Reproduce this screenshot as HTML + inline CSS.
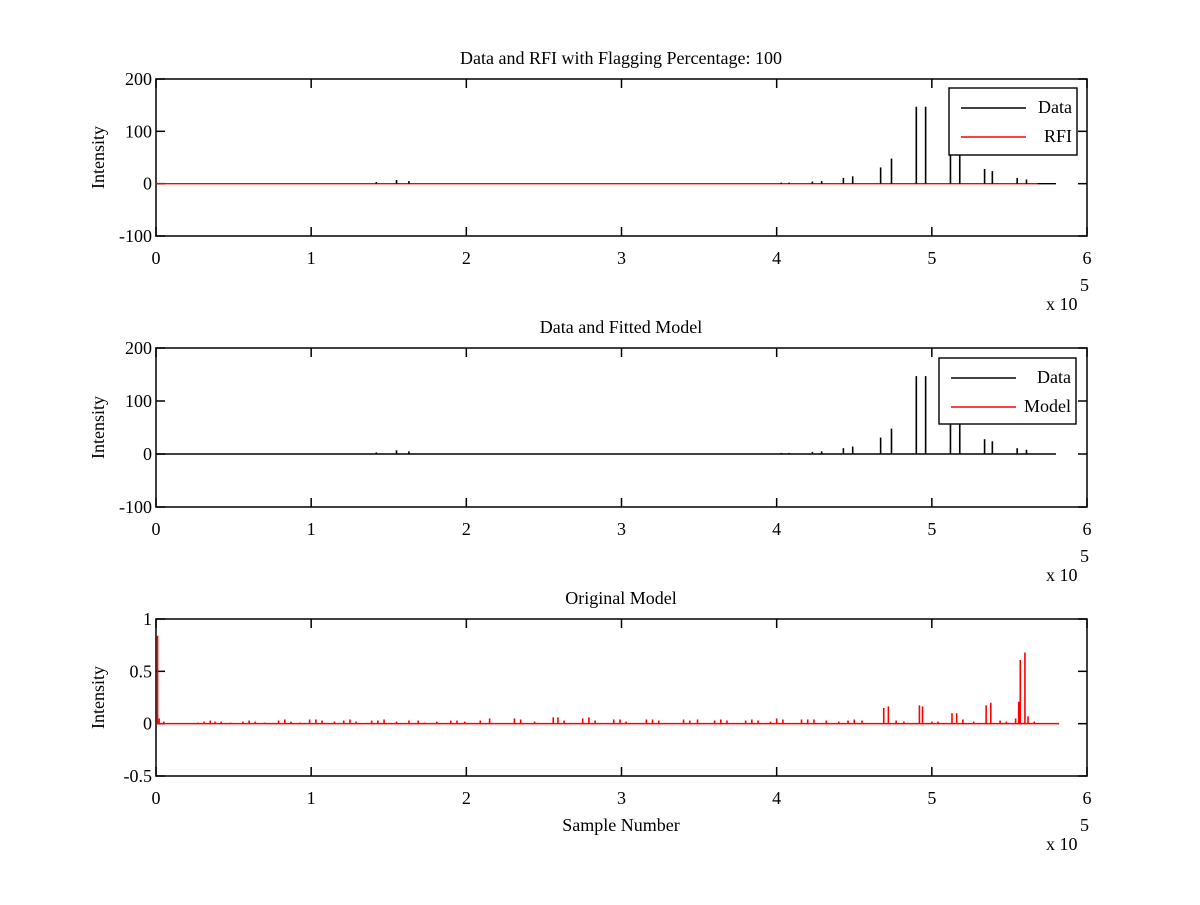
<!DOCTYPE html>
<html><head><meta charset="utf-8"><style>
body{margin:0;background:#fff;}
svg text{font-family:"Liberation Serif",serif;font-size:18px;fill:#000;}
</style></head><body>
<svg id="chart" width="1200" height="900" xmlns="http://www.w3.org/2000/svg">
<rect width="1200" height="900" fill="#fff"/>
</svg>
<script>
// ---- data ----
const dataSamples = [142000,155000,163000,403000,408000,423000,429000,443000,449000,467000,474000,490000,496000,512000,518000,534000,539000,555000,561000];
const dataValues  = [3,7,5,2,2,4,5,11,14,31,48,147,147,75,70,28,24,11,8];
const dataEnd = 580000;
const rfiEnd = 568000;
const modelBigSamples = [1000,2000,469000,472000,492000,494000,513000,516000,535000,538000,554000,556000,557000,560000,562000];
const modelBigValues  = [0.84,0.05,0.15,0.165,0.175,0.165,0.1,0.1,0.175,0.2,0.05,0.21,0.61,0.68,0.07];
const modelSmallSamples = [5000,27000,31000,35000,38000,42000,48000,56000,60000,64000,70000,79000,83000,87000,93000,99000,103000,107000,115000,121000,125000,129000,139000,143000,147000,155000,163000,169000,173000,181000,190000,194000,199000,209000,215000,231000,235000,244000,256000,259000,263000,275000,279000,283000,295000,299000,303000,316000,320000,324000,340000,344000,349000,360000,364000,368000,380000,384000,388000,396000,400000,404000,416000,420000,424000,432000,440000,446000,450000,455000,477000,482000,500000,504000,520000,527000,544000,548000,566000];
const modelSmallValues  = [0.02,0.01,0.02,0.03,0.02,0.02,0.01,0.02,0.03,0.02,0.01,0.03,0.04,0.02,0.01,0.04,0.04,0.03,0.02,0.03,0.04,0.02,0.03,0.03,0.04,0.02,0.03,0.03,0.01,0.02,0.03,0.03,0.02,0.03,0.05,0.05,0.04,0.02,0.06,0.06,0.03,0.05,0.06,0.03,0.04,0.04,0.02,0.04,0.04,0.03,0.04,0.03,0.04,0.03,0.04,0.03,0.03,0.04,0.03,0.02,0.05,0.04,0.04,0.04,0.04,0.03,0.02,0.03,0.04,0.03,0.03,0.02,0.02,0.02,0.04,0.02,0.03,0.02,0.02];
const xTicks = [0,1,2,3,4,5,6];
const yTicksTop = [-100,0,100,200];
const yTicksBottom = [-0.5,0,0.5,1];

const svg = document.getElementById('chart');
const NS = 'http://www.w3.org/2000/svg';
function mk(tag, attrs, parent){const e=document.createElementNS(NS,tag);for(const k in attrs)e.setAttribute(k,attrs[k]);(parent||svg).appendChild(e);return e;}
const X0=156,X1=1087;
const xs = v => X0 + (v/600000)*(X1-X0);

function panel(name, top, bottom, ymin, ymax, yTicks, title, showXLabel){
  const g = mk('g',{});
  
  
  const ys = v => bottom - (v-ymin)/(ymax-ymin)*(bottom-top);
  mk('rect',{x:X0,y:top,width:X1-X0,height:bottom-top,fill:'#fff',stroke:'#000','stroke-width':1.5},g);
  xTicks.forEach(t=>{
    const x=xs(t*100000);
    mk('line',{x1:x,y1:top,x2:x,y2:top+9,stroke:'#000','stroke-width':1.5},g);
    mk('line',{x1:x,y1:bottom,x2:x,y2:bottom-9,stroke:'#000','stroke-width':1.5},g);
    const tx=mk('text',{x:x,y:bottom+28,'text-anchor':'middle'},g);tx.textContent=t;
    
    
  });
  yTicks.forEach(t=>{
    const y=ys(t);
    mk('line',{x1:X0,y1:y,x2:X0+9,y2:y,stroke:'#000','stroke-width':1.5},g);
    mk('line',{x1:X1,y1:y,x2:X1-9,y2:y,stroke:'#000','stroke-width':1.5},g);
    const tx=mk('text',{x:X0-4,y:y+6,'text-anchor':'end'},g);tx.textContent=t;
    
    
  });
  const tt=mk('text',{x:621,y:top-15,'text-anchor':'middle'},g);tt.textContent=title;
  
  
  const yl=mk('text',{x:0,y:0,'text-anchor':'middle',transform:`translate(${X0-52},${(top+bottom)/2}) rotate(-90)`},g);yl.textContent='Intensity';
  
  
  const ex=mk('text',{x:1046,y:bottom+74},g);ex.textContent='x 10';
  
  
  const e5=mk('text',{x:1080,y:bottom+55,'font-size':'13'},g);e5.textContent='5';
  if(showXLabel){const xl=mk('text',{x:621,y:bottom+55,'text-anchor':'middle'},g);xl.textContent='Sample Number';
    
    }
  return {g,ys};
}

function dataSeries(p, withRfi){
  const y0=p.ys(0);
  if(withRfi){
    const rl=mk('line',{x1:xs(0),y1:y0,x2:xs(rfiEnd),y2:y0,stroke:'#f00','stroke-width':1.4},p.g);
    
    
  }
  const bl=mk('line',{x1:xs(withRfi?rfiEnd:0),y1:y0,x2:xs(dataEnd),y2:y0,stroke:'#000','stroke-width':1.4},p.g);
  
  
  dataSamples.forEach((s,i)=>{
    const l=mk('line',{x1:xs(s),y1:y0,x2:xs(s),y2:p.ys(dataValues[i]),stroke:'#000','stroke-width':1.6},p.g);
    
    
  });
}

function legend(p, x, y, w, h, labels, colors){
  const lg=mk('g',{},p.g);
  
  
  mk('rect',{x:x,y:y,width:w,height:h,fill:'#fff',stroke:'#000','stroke-width':1.4},lg);
  labels.forEach((lab,i)=>{
    const yy=y+19+i*29;
    mk('line',{x1:x+12,y1:yy+1,x2:x+77,y2:yy+1,stroke:colors[i],'stroke-width':1.4},lg);
    const t=mk('text',{x:x+w-5,y:yy+6,'text-anchor':'end'},lg);t.textContent=lab;
    
    
  });
}

const p1=panel('panel-data-rfi',79,236,-100,200,yTicksTop,'Data and RFI with Flagging Percentage: 100',false);
dataSeries(p1,true);
legend(p1,949,88,128,67,['Data','RFI'],['#000','#f00']);

const p2=panel('panel-data-model',348,507,-100,200,yTicksTop,'Data and Fitted Model',false);
dataSeries(p2,false);
legend(p2,939,358,137,66,['Data','Model'],['#000','#f00']);

const p3=panel('panel-original-model',619,776,-0.5,1,yTicksBottom,'Original Model',true);
const y0=p3.ys(0);
const ml=mk('line',{x1:xs(0),y1:y0,x2:xs(582000),y2:y0,stroke:'#f00','stroke-width':1.5},p3.g);


modelSmallSamples.forEach((s,i)=>{
  const l=mk('line',{x1:xs(s),y1:y0,x2:xs(s),y2:p3.ys(modelSmallValues[i]),stroke:'#f00','stroke-width':1.6},p3.g);
  
  
});
modelBigSamples.forEach((s,i)=>{
  const l=mk('line',{x1:xs(s),y1:y0,x2:xs(s),y2:p3.ys(modelBigValues[i]),stroke:'#f00','stroke-width':1.6},p3.g);
  
  
});
</script>
</body></html>
